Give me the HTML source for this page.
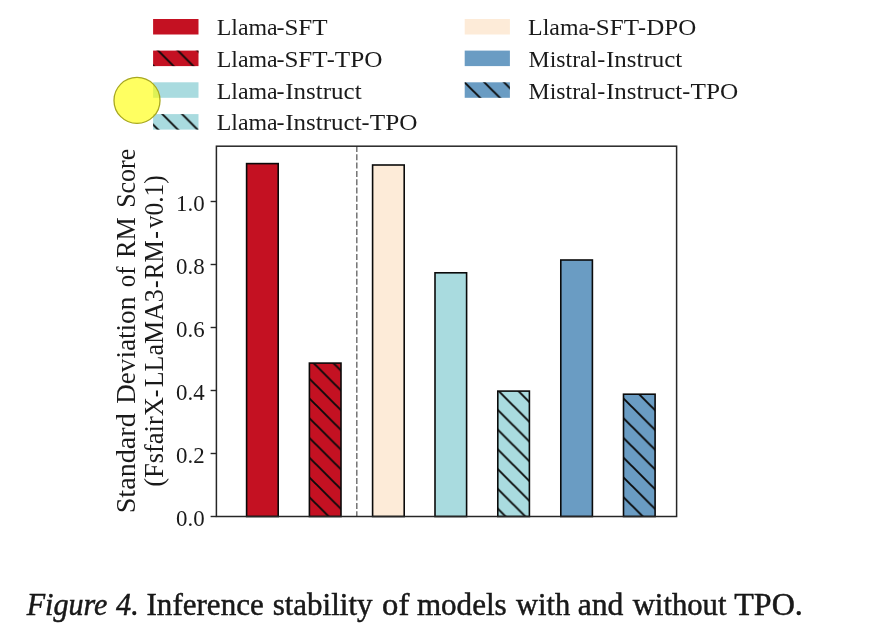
<!DOCTYPE html>
<html><head><meta charset="utf-8"><title>Figure 4</title>
<style>
html,body{margin:0;padding:0;background:#fff;}
body{width:888px;height:636px;overflow:hidden;position:relative;font-family:"Liberation Serif",serif;}
svg{position:absolute;left:0;top:0;filter:blur(0.45px);}
svg text{font-family:"Liberation Serif",serif;fill:#1a1a1a;}
</style></head><body>
<svg width="888" height="636" viewBox="0 0 888 636">
<defs>
<pattern id="h" patternUnits="userSpaceOnUse" width="19.75" height="19.75" x="0" y="11.0">
<path d="M-2,-2 L21.75,21.75 M-2,-21.75 L21.75,2 M-2,17.75 L21.75,41.5" stroke="#0a0a0a" stroke-width="1.9" fill="none"/>
</pattern>
<pattern id="h2" patternUnits="userSpaceOnUse" width="19.75" height="19.75" x="0" y="10.0">
<path d="M-2,-2 L21.75,21.75 M-2,-21.75 L21.75,2 M-2,17.75 L21.75,41.5" stroke="#0a0a0a" stroke-width="1.9" fill="none"/>
</pattern>
<pattern id="h5" patternUnits="userSpaceOnUse" width="19.75" height="19.75" x="0" y="10.9">
<path d="M-2,-2 L21.75,21.75 M-2,-21.75 L21.75,2 M-2,17.75 L21.75,41.5" stroke="#0a0a0a" stroke-width="1.9" fill="none"/>
</pattern>
<pattern id="h7" patternUnits="userSpaceOnUse" width="19.75" height="19.75" x="0" y="11.9">
<path d="M-2,-2 L21.75,21.75 M-2,-21.75 L21.75,2 M-2,17.75 L21.75,41.5" stroke="#0a0a0a" stroke-width="1.9" fill="none"/>
</pattern>
<pattern id="hm" patternUnits="userSpaceOnUse" width="19.75" height="19.75" x="0" y="12.7">
<path d="M-2,-2 L21.75,21.75 M-2,-21.75 L21.75,2 M-2,17.75 L21.75,41.5" stroke="#0a0a0a" stroke-width="1.9" fill="none"/>
</pattern>
</defs>
<!-- legend -->
<g>
<rect x="153.1" y="19.0" width="45.4" height="15.5" fill="#c41122"/>
<rect x="153.1" y="50.6" width="45.4" height="15.5" fill="#c41122"/><rect x="153.1" y="50.6" width="45.4" height="15.5" fill="url(#h)"/>
<rect x="153.1" y="82.3" width="45.4" height="15.5" fill="#a9dbdf"/>
<rect x="153.1" y="114.1" width="45.4" height="15.5" fill="#a9dbdf"/><rect x="153.1" y="114.1" width="45.4" height="15.5" fill="url(#h)"/>
<rect x="464.7" y="19.0" width="45.2" height="15.5" fill="#fdebd8"/>
<rect x="464.7" y="50.6" width="45.2" height="15.5" fill="#6a9cc3"/>
<rect x="464.7" y="82.3" width="45.2" height="15.5" fill="#6a9cc3"/><rect x="464.7" y="82.3" width="45.2" height="15.5" fill="url(#hm)"/>
<g font-size="24">
<text x="216.7" y="35" textLength="61.0" lengthAdjust="spacingAndGlyphs">Llama</text>
<text x="280.6" y="35" text-anchor="middle">-</text>
<text x="284.4" y="35" textLength="43.2" lengthAdjust="spacingAndGlyphs">SFT</text>
<text x="216.7" y="66.8" textLength="61.0" lengthAdjust="spacingAndGlyphs">Llama</text>
<text x="280.6" y="66.8" text-anchor="middle">-</text>
<text x="284.4" y="66.8" textLength="43.2" lengthAdjust="spacingAndGlyphs">SFT</text>
<text x="330.7" y="66.8" text-anchor="middle">-</text>
<text x="334.8" y="66.8" textLength="47.7" lengthAdjust="spacingAndGlyphs">TPO</text>
<text x="216.7" y="98.6" textLength="61.0" lengthAdjust="spacingAndGlyphs">Llama</text>
<text x="280.6" y="98.6" text-anchor="middle">-</text>
<text x="285.3" y="98.6" textLength="76.3" lengthAdjust="spacingAndGlyphs">Instruct</text>
<text x="216.7" y="130.3" textLength="61.0" lengthAdjust="spacingAndGlyphs">Llama</text>
<text x="280.6" y="130.3" text-anchor="middle">-</text>
<text x="285.3" y="130.3" textLength="76.3" lengthAdjust="spacingAndGlyphs">Instruct</text>
<text x="365.5" y="130.3" text-anchor="middle">-</text>
<text x="369.8" y="130.3" textLength="47.7" lengthAdjust="spacingAndGlyphs">TPO</text>
<text x="528.1" y="35" textLength="61.0" lengthAdjust="spacingAndGlyphs">Llama</text>
<text x="592.0" y="35" text-anchor="middle">-</text>
<text x="595.8" y="35" textLength="43.2" lengthAdjust="spacingAndGlyphs">SFT</text>
<text x="642.1" y="35" text-anchor="middle">-</text>
<text x="646.2" y="35" textLength="50.0" lengthAdjust="spacingAndGlyphs">DPO</text>
<text x="528.6" y="66.8" textLength="68.6" lengthAdjust="spacingAndGlyphs">Mistral</text>
<text x="601.2" y="66.8" text-anchor="middle">-</text>
<text x="606.0" y="66.8" textLength="76.3" lengthAdjust="spacingAndGlyphs">Instruct</text>
<text x="528.6" y="98.6" textLength="68.6" lengthAdjust="spacingAndGlyphs">Mistral</text>
<text x="601.2" y="98.6" text-anchor="middle">-</text>
<text x="606.0" y="98.6" textLength="76.3" lengthAdjust="spacingAndGlyphs">Instruct</text>
<text x="686.2" y="98.6" text-anchor="middle">-</text>
<text x="690.5" y="98.6" textLength="47.7" lengthAdjust="spacingAndGlyphs">TPO</text>
</g>
</g>
<!-- bars -->
<g stroke="#0a0a0a" stroke-width="1.6">
<rect x="246.600" y="163.600" width="31.600" height="352.900" fill="#c41122"/>
<rect x="309.400" y="363.100" width="31.600" height="153.400" fill="#c41122"/>
<rect x="372.600" y="165" width="31.600" height="351.500" fill="#fdebd8"/>
<rect x="435" y="272.800" width="31.600" height="243.700" fill="#a9dbdf"/>
<rect x="497.800" y="391.100" width="31.600" height="125.400" fill="#a9dbdf"/>
<rect x="560.800" y="260" width="31.600" height="256.500" fill="#6a9cc3"/>
<rect x="623.500" y="394.200" width="31.600" height="122.300" fill="#6a9cc3"/>
</g>
<rect x="309.400" y="363.100" width="31.600" height="153.400" fill="url(#h2)"/>
<rect x="497.800" y="391.100" width="31.600" height="125.400" fill="url(#h5)"/>
<rect x="623.500" y="394.200" width="31.600" height="122.300" fill="url(#h7)"/>
<!-- dashed -->
<line x1="356.800" y1="146" x2="356.800" y2="516.500" stroke="#6a6a6a" stroke-width="1.4" stroke-dasharray="6,2.3"/>
<!-- axes -->
<rect x="216.400" y="146.200" width="460.200" height="370.300" fill="none" stroke="#262626" stroke-width="1.5"/>
<g stroke="#262626" stroke-width="1.400">
<line x1="210.600" x2="216.400" y1="201.500" y2="201.500"/>
<line x1="210.600" x2="216.400" y1="264.500" y2="264.500"/>
<line x1="210.600" x2="216.400" y1="327.500" y2="327.500"/>
<line x1="210.600" x2="216.400" y1="390.500" y2="390.500"/>
<line x1="210.600" x2="216.400" y1="453.500" y2="453.500"/>
<line x1="210.600" x2="216.400" y1="516.500" y2="516.500"/>
</g>
<g font-size="23.5">
<text x="176" y="210.7" textLength="28.6" lengthAdjust="spacingAndGlyphs">1.0</text>
<text x="176" y="273.7" textLength="28.6" lengthAdjust="spacingAndGlyphs">0.8</text>
<text x="176" y="336.7" textLength="28.6" lengthAdjust="spacingAndGlyphs">0.6</text>
<text x="176" y="399.7" textLength="28.6" lengthAdjust="spacingAndGlyphs">0.4</text>
<text x="176" y="462.7" textLength="28.6" lengthAdjust="spacingAndGlyphs">0.2</text>
<text x="176" y="525.7" textLength="28.6" lengthAdjust="spacingAndGlyphs">0.0</text>
</g>
<g font-size="28">
<text transform="translate(134.8,513.3) rotate(-90)" textLength="100.0" lengthAdjust="spacingAndGlyphs">Standard</text>
<text transform="translate(134.8,403.8) rotate(-90)" textLength="107.0" lengthAdjust="spacingAndGlyphs">Deviation</text>
<text transform="translate(134.8,287.3) rotate(-90)" textLength="20.8" lengthAdjust="spacingAndGlyphs">of</text>
<text transform="translate(134.8,258) rotate(-90)" textLength="40.7" lengthAdjust="spacingAndGlyphs">RM</text>
<text transform="translate(134.8,207.8) rotate(-90)" textLength="59.0" lengthAdjust="spacingAndGlyphs">Score</text>
<text transform="translate(162.6,486.8) rotate(-90)" textLength="89.7" lengthAdjust="spacingAndGlyphs">(FsfairX</text>
<text transform="translate(162.6,393.5) rotate(-90)" text-anchor="middle" textLength="7.6" lengthAdjust="spacingAndGlyphs">-</text>
<text transform="translate(162.6,387.3) rotate(-90)" textLength="98.0" lengthAdjust="spacingAndGlyphs">LLaMA3</text>
<text transform="translate(162.6,284.2) rotate(-90)" text-anchor="middle" textLength="7.6" lengthAdjust="spacingAndGlyphs">-</text>
<text transform="translate(162.6,279.3) rotate(-90)" textLength="39.0" lengthAdjust="spacingAndGlyphs">RM</text>
<text transform="translate(162.6,235.0) rotate(-90)" text-anchor="middle" textLength="7.6" lengthAdjust="spacingAndGlyphs">-</text>
<text transform="translate(162.6,228.2) rotate(-90)" textLength="53.0" lengthAdjust="spacingAndGlyphs">v0.1)</text>
</g>
<!-- cursor -->
<circle cx="137" cy="100.400" r="23" fill="#ffff00" fill-opacity="0.62" stroke="#a8a820" stroke-width="1.300"/>
<!-- caption -->
<g font-size="31.1" style="fill:#0c0c0c;stroke:#0c0c0c;stroke-width:0.45" id="cap">
<text x="26.7" y="615.2" font-style="italic" textLength="80.8" lengthAdjust="spacingAndGlyphs">Figure</text>
<text x="116.1" y="615.2" font-style="italic" textLength="22.7" lengthAdjust="spacingAndGlyphs">4.</text>
<text x="146.5" y="615.2" textLength="117.3" lengthAdjust="spacingAndGlyphs">Inference</text>
<text x="272.7" y="615.2" textLength="99.8" lengthAdjust="spacingAndGlyphs">stability</text>
<text x="382.1" y="615.2" textLength="27.2" lengthAdjust="spacingAndGlyphs">of</text>
<text x="416.9" y="615.2" textLength="89.8" lengthAdjust="spacingAndGlyphs">models</text>
<text x="516.1" y="615.2" textLength="54.2" lengthAdjust="spacingAndGlyphs">with</text>
<text x="577.7" y="615.2" textLength="45.7" lengthAdjust="spacingAndGlyphs">and</text>
<text x="632.7" y="615.2" textLength="93.8" lengthAdjust="spacingAndGlyphs">without</text>
<text x="734.3" y="615.2" textLength="68.5" lengthAdjust="spacingAndGlyphs">TPO.</text>
</g>
</svg>
</body></html>
